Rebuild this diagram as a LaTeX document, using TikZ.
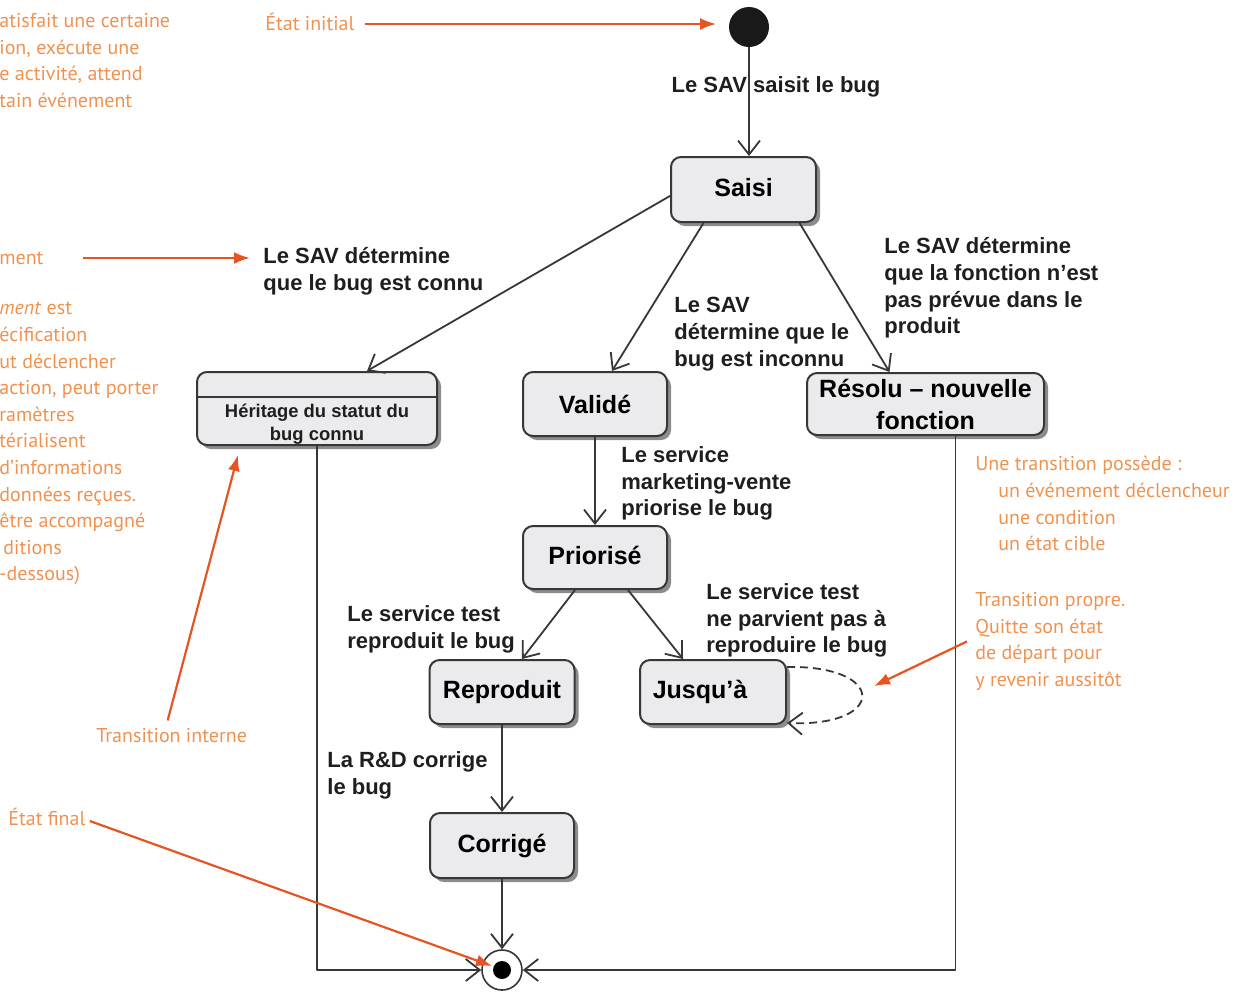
\documentclass[tikz,border=0pt]{standalone}
\usepackage{fontspec}
\setmainfont{Liberation Sans}
\newfontfamily\notefamily{PT Sans}
\usetikzlibrary{arrows.meta,shadows}

\definecolor{statefill}{RGB}{235,235,238}
\definecolor{stateline}{RGB}{55,55,55}
\definecolor{notetext}{RGB}{240,145,80}
\definecolor{notearrow}{RGB}{228,85,35}
\definecolor{labeltext}{RGB}{30,30,30}

\begin{document}
\begin{tikzpicture}[x=0.5pt,y=-0.5pt, line join=round, >={Straight Barb[length=7pt,width=11pt]},
    state/.style={draw=stateline, fill=statefill, line width=1pt, rounded corners=5pt,
      font=\bfseries\fontsize{12.5}{16}\selectfont, align=center, inner sep=0pt,
      drop shadow={shadow xshift=2pt, shadow yshift=-2pt, fill=black!45, opacity=1}},
    trans/.style={->, draw=stateline, line width=0.9pt},
    lbl/.style={font=\bfseries\fontsize{11}{13.4}\selectfont, text=labeltext, align=left, inner sep=0pt, anchor=north west},
    note/.style={font=\notefamily\fontsize{10}{13.3}\selectfont, text=notetext, align=left, inner sep=0pt, anchor=north west},
    notearr/.style={-{Latex[length=8pt,width=6pt]}, draw=notearrow, line width=1.1pt}]
    \useasboundingbox (0,0) rectangle (1246,992);

    % etats
    \node[circle, fill=black!90, minimum size=20pt, inner sep=0pt] (init) at (749,27) {};
    \node[state, minimum width=72.5pt, minimum height=32.5pt] (saisi) at (743.5,189.5) {\raisebox{2.5pt}{Saisi}};
    \node[state, minimum width=120pt, minimum height=36.5pt] (herit) at (317,408.5) {};
    \node[font=\bfseries\fontsize{9.2}{11.5}\selectfont, text=labeltext, align=center, inner sep=0pt] (herittxt) at (317,424) {Héritage du statut du\\bug connu};
    \draw[stateline, line width=0.8pt] (herit.west |- 0,397) -- (herit.east |- 0,397);
    \node[state, minimum width=72pt, minimum height=32pt] (valide) at (595,404) {Validé};
    \node[state, minimum width=118.5pt, minimum height=31pt] (resolu) at (925.5,404) {Résolu -- nouvelle\\fonction};
    \node[state, minimum width=72pt, minimum height=31.5pt] (priorise) at (595,557.5) {\raisebox{2.5pt}{Priorisé}};
    \node[state, minimum width=72.5pt, minimum height=32pt] (reproduit) at (502,692) {Reproduit};
    \node[state, minimum width=73pt, minimum height=32pt] (jusqua) at (713,692) {Jusqu’à\hspace{13pt}};
    \node[state, minimum width=72pt, minimum height=32.5pt] (corrige) at (502,845.5) {Corrigé};
    \node[circle, draw=stateline, fill=white, line width=0.8pt, minimum size=20pt, inner sep=0pt] (fin) at (502,970) {};
    \node[circle, fill=black, minimum size=9pt, inner sep=0pt] (findot) at (fin) {};

    % transitions
    \draw[trans] (init) -- (init |- saisi.north);
    \draw[trans] (saisi.185) -- ([xshift=25pt]herit.north);
    \draw[trans] ([xshift=-20pt]saisi.south) -- ([xshift=8.5pt]valide.north);
    \draw[trans] ([xshift=28pt]saisi.south) -- ([xshift=-18pt]resolu.north);
    \draw[trans] (valide) -- (priorise);
    \draw[trans] ([xshift=-10pt]priorise.south) -- ([xshift=10pt]reproduit.north);
    \draw[trans] ([xshift=16.5pt]priorise.south) -- ([xshift=-15pt]jusqua.north);
    \draw[trans] (reproduit) -- (corrige);
    \draw[trans] (corrige) -- (fin);
    \draw[trans] (herit.south) -- (herit.south |- fin) -- (fin.west);
    \draw[trans] ([xshift=15pt]resolu.south) -- ([xshift=15pt]resolu.south |- fin) -- (fin.east);
    \draw[trans, dash pattern=on 4pt off 2.5pt] ([yshift=-4pt]jusqua.north east) .. controls +(100,-2) and +(100,4) .. ([yshift=1pt]jusqua.south east);

    % libelles
    \node[lbl, anchor=center] (lblsaisit) at (776,87) {Le SAV saisit le bug};
    \node[lbl] (lblconnu) at (263,247) {Le SAV détermine\\que le bug est connu};
    \node[lbl] (lblinconnu) at (674,297) {Le SAV\\détermine que le\\bug est inconnu};
    \node[lbl] (lblfonction) at (884,237) {Le SAV détermine\\que la fonction n’est\\pas prévue dans le\\produit};
    \node[lbl] (lblpriorise) at (621,446) {Le service\\marketing-vente\\priorise le bug};
    \node[lbl] (lblreproduit) at (347,605) {Le service test\\reproduit le bug};
    \node[lbl] (lblparvient) at (706,583) {Le service test\\ne parvient pas à\\reproduire le bug};
    \node[lbl] (lblcorrige) at (327,751) {La R\&D corrige\\le bug};

    % notes
    \node[note] (noteintro) at (-1,13) {atisfait une certaine\\ion, exécute une\\e activité, attend\\tain événement};
    \node[note, anchor=west] (noteinit) at (265,22) {État initial};
    \node[note, anchor=west] (noteevt) at (-1,258) {ment};
    \node[note] (noteevtbis) at (-1,302) {\textit{ment} est\\écification\\ut déclencher\\action, peut porter\\ramètres\\térialisent\\d’informations\\données reçues.\\être accompagné\\\kern2pt ditions\\-dessous)};
    \node[note, anchor=west] (noteinterne) at (96,736) {Transition interne};
    \node[note, anchor=west] (notefinal) at (8,817) {État final};
    \node[note] (notetrans) at (975,456) {Une transition possède :\\\hspace*{11.5pt}un événement déclencheur\\\hspace*{11.5pt}une condition\\\hspace*{11.5pt}un état cible};
    \node[note] (notepropre) at (975,592) {Transition propre.\\Quitte son état\\de départ pour\\y revenir aussitôt};

    \coordinate (initpt) at (716,24);
    \coordinate (evtpt) at (250,258);
    \coordinate (internept) at (238,455);
    \coordinate (finalpt) at (492,966);
    \coordinate (looppt) at (874,686);
    \draw[notearr] ([xshift=5pt]noteinit.east |- initpt) -- (initpt);
    \draw[notearr] ([xshift=19.5pt]noteevt.east) -- (evtpt);
    \draw[notearr] ([xshift=-2pt,yshift=4pt]noteinterne.north) -- (internept);
    \draw[notearr] ([xshift=2pt,yshift=-2pt]notefinal.east) -- (finalpt);
    \draw[notearr] ([xshift=-4pt]notepropre.west) -- (looppt);
\end{tikzpicture}
\end{document}
